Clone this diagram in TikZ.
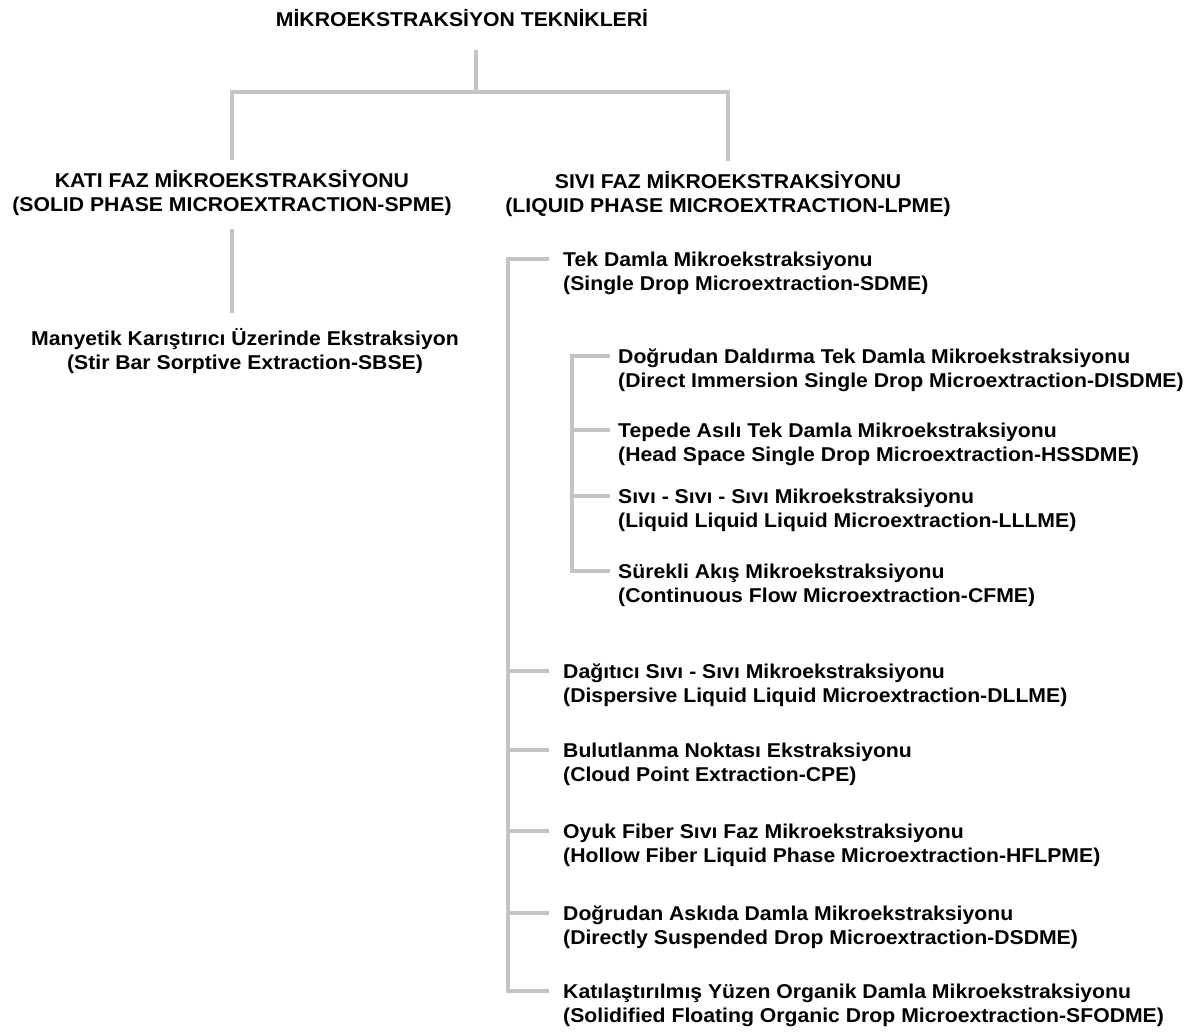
\documentclass[tikz,border=0pt]{standalone}
\usepackage{fontspec}
\setmainfont{Liberation Sans}[FakeStretch=1.06]
\usepackage{xcolor}
\usepackage{tikz}

\definecolor{branchgray}{RGB}{196,196,196}

\begin{document}
\begin{tikzpicture}[x=1pt, y=-1pt,
    every node/.style={inner sep=0pt, font=\fontsize{20}{24.5}\selectfont\bfseries},
    head/.style={align=center, anchor=base},
    item/.style={align=left, anchor=base west},
    branch/.style={draw=branchgray, line width=3.6pt}]
  \useasboundingbox (0,0) rectangle (1197,1034);
  \node[head] (Title) at (462,26) {MİKROEKSTRAKSİYON TEKNİKLERİ};  % Root
  \node[head] (SPME) at (232,211.5) {KATI FAZ MİKROEKSTRAKSİYONU\\(SOLID PHASE MICROEXTRACTION-SPME)};  % Solid phase
  \node[head] (LPME) at (728,212.5) {SIVI FAZ MİKROEKSTRAKSİYONU\\(LIQUID PHASE MICROEXTRACTION-LPME)};  % Liquid phase
  \node[head] (SBSE) at (245,369.5) {Manyetik Karıştırıcı Üzerinde Ekstraksiyon\\(Stir Bar Sorptive Extraction-SBSE)};
  \node[item] (SDME) at (563,290.5) {Tek Damla Mikroekstraksiyonu\\(Single Drop Microextraction-SDME)};  % Single drop
  \node[item] (DISDME) at (618,387.5) {Doğrudan Daldırma Tek Damla Mikroekstraksiyonu\\(Direct Immersion Single Drop Microextraction-DISDME)};
  \node[item] (HSSDME) at (618,461.5) {Tepede Asılı Tek Damla Mikroekstraksiyonu\\(Head Space Single Drop Microextraction-HSSDME)};
  \node[item] (LLLME) at (618,527.5) {Sıvı - Sıvı - Sıvı Mikroekstraksiyonu\\(Liquid Liquid Liquid Microextraction-LLLME)};
  \node[item] (CFME) at (618,602.5) {Sürekli Akış Mikroekstraksiyonu\\(Continuous Flow Microextraction-CFME)};
  \node[item] (DLLME) at (563,702.5) {Dağıtıcı Sıvı - Sıvı Mikroekstraksiyonu\\(Dispersive Liquid Liquid Microextraction-DLLME)};
  \node[item] (CPE) at (563,781.5) {Bulutlanma Noktası Ekstraksiyonu\\(Cloud Point Extraction-CPE)};
  \node[item] (HFLPME) at (563,862.5) {Oyuk Fiber Sıvı Faz Mikroekstraksiyonu\\(Hollow Fiber Liquid Phase Microextraction-HFLPME)};
  \node[item] (DSDME) at (563,944.5) {Doğrudan Askıda Damla Mikroekstraksiyonu\\(Directly Suspended Drop Microextraction-DSDME)};
  \node[item] (SFODME) at (563,1022.5) {Katılaştırılmış Yüzen Organik Damla Mikroekstraksiyonu\\(Solidified Floating Organic Drop Microextraction-SFODME)};
  \coordinate (Fork) at (476,92);
  \draw[branch, shorten <=24pt] (Title.south -| Fork) -- (Fork);  % Root stem
  \draw[branch, shorten >=10pt] (Fork) -| (SPME.north);
  \draw[branch, shorten >=10pt] (Fork) -| (LPME.north);
  \draw[branch, shorten <=13pt, shorten >=15pt] (SPME.south) -- (SPME.south |- SBSE.north);
  \draw[branch] ([xshift=-14pt, yshift=31.5pt]SDME.base west) -- ++(-41,0) |- ([xshift=-14pt, yshift=31.5pt]SFODME.base west);  % Outer bracket
  \foreach \n in {DLLME, CPE, HFLPME, DSDME}
    \draw[branch] ([xshift=-14pt, yshift=31.5pt]\n.base west) -- ++(-41,0);
  \draw[branch] ([xshift=-8pt, yshift=31.5pt]DISDME.base west) -- ++(-38,0) |- ([xshift=-8pt, yshift=31.5pt]CFME.base west);  % Inner bracket
  \foreach \n in {HSSDME, LLLME}
    \draw[branch] ([xshift=-8pt, yshift=31.5pt]\n.base west) -- ++(-38,0);
\end{tikzpicture}
\end{document}
